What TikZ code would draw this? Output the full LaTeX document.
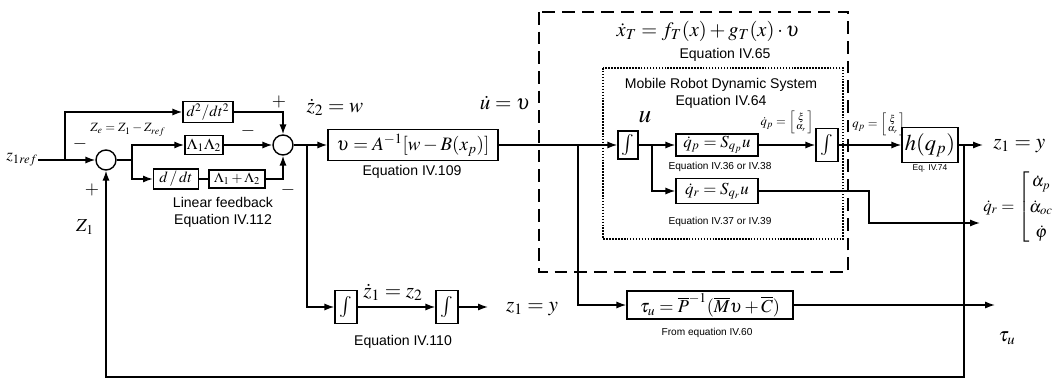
\documentclass[tikz,border=0pt]{standalone}
\usepackage{amsmath}
\usepackage{mathptmx}
\usepackage{fontspec}
\setsansfont{Liberation Sans}
\usetikzlibrary{arrows.meta,positioning}

\newcommand{\fsz}[1]{\fontsize{#1}{1.2\dimexpr#1pt\relax}\selectfont}

\tikzset{
	blk/.style={draw, line width=1pt, inner sep=1.5pt},
	integ/.style={draw, line width=1pt, minimum width=0.55cm, minimum height=0.82cm, inner sep=0pt, font=\fsz{15}},
	sumnode/.style={draw, circle, line width=1pt, minimum size=0.5cm, inner sep=0pt},
	sig/.style={line width=1pt, -{Latex[length=7pt,width=5pt]}},
	wire/.style={line width=1pt},
	sgn/.style={font=\fsz{13}\bfseries, inner sep=0pt},
	eqnote/.style={font=\fsz{10}\sffamily, align=center, inner sep=0pt},
	smallnote/.style={font=\fsz{7.2}\sffamily, inner sep=0pt},
	lbl/.style={font=\fsz{12}, inner sep=0pt}
}

\begin{document}
\begin{tikzpicture}[x=0.025cm, y=-0.025cm]
		\useasboundingbox (0,0) rectangle (1052,381);

		\draw[line width=1.5pt, dash pattern=on 9pt off 5pt] (539,12) rectangle (848,272);
		\draw[line width=1.1pt, densely dotted] (603,68) rectangle (843,239);

		\node[lbl] (zref) at (22,160) {$z_{1ref}$};
		\node[sumnode] (sum1) at (106,160) {};
		\node[blk, minimum width=1.25cm, minimum height=0.53cm, font=\fsz{11}] (d2) at (208,112) {$d^2/dt^2$};
		\node[blk, minimum width=0.95cm, minimum height=0.48cm, font=\fsz{11}] (L12) at (204,145) {$\Lambda_1\Lambda_2$};
		\node[blk, minimum width=1.12cm, minimum height=0.45cm, font=\fsz{11}] (ddt) at (176,179) {$d\,/\,dt$};
		\node[blk, minimum width=1.4cm, minimum height=0.45cm, font=\fsz{10}] (lsum) at (237,179) {$\Lambda_1+\Lambda_2$};
		\node[sumnode] (sum2) at (283,145) {};
		\node[blk, minimum width=4.25cm, minimum height=0.78cm, font=\fsz{13.5}] (ctrl) at (413,145) {$\upsilon = A^{-1}[w-B(x_p)]$};

		\node[integ, minimum width=0.5cm, minimum height=0.7cm] (intu) at (628,145) {$\int$};
		\node[blk, minimum width=2.05cm, minimum height=0.5cm, font=\fsz{12}] (qpbox) at (717,145) {$\dot q_p=S_{q_p}u$};
		\node[blk, minimum width=2.05cm, minimum height=0.62cm, font=\fsz{12}] (qrbox) at (717,191) {$\dot q_r=S_{q_r}u$};
		\node[integ] (int2) at (827,145) {$\int$};
		\node[blk, minimum width=1.4cm, minimum height=0.88cm, font=\fsz{16}] (hbox) at (930,145) {$h(q_p)$};

		\node[integ] (int3) at (346,307) {$\int$};
		\node[integ] (int4) at (447,307) {$\int$};
		\node[blk, minimum width=4.15cm, minimum height=0.68cm, font=\fsz{13}] (tau) at (710,305) {$\tau_u=\overline{P}^{-1}(\overline{M}\upsilon+\overline{C})$};

		\coordinate (j0) at (65,160);
		\coordinate (j2) at (132,160);
		\coordinate (j1) at (307,145);
		\coordinate (j3) at (578,145);
		\coordinate (j4) at (652,145);
		\coordinate (j5) at (964,145);
		\coordinate (yout) at (983,145);
		\coordinate (qrbend) at (869,223);
		\coordinate (qrout) at (980,223);
		\coordinate (zout2) at (488,307);
		\coordinate (tauout) at (995,305);
		\coordinate (fbL) at (106,377);

		\draw[sig] (zref.east) -- (sum1);
		\draw[sig] (j0) |- (d2);
		\draw[wire] (sum1) -- (j2);
		\draw[sig] (j2) |- (L12);
		\draw[sig] (j2) |- (ddt);
		\draw[wire] (ddt) -- (lsum);
		\draw[sig] (d2) -| (sum2);
		\draw[sig] (L12) -- (sum2);
		\draw[sig] (lsum) -| (sum2);
		\draw[sig] (sum2) -- (ctrl);
		\draw[sig] (ctrl) -- (intu);
		\draw[sig] (j1) |- (int3);
		\draw[sig] (int3) -- (int4);
		\draw[sig] (int4) -- (zout2);
		\draw[sig] (j3) |- (tau);
		\draw[sig] (tau) -- (tauout);
		\draw[sig] (intu) -- (qpbox);
		\draw[sig] (j4) |- (qrbox);
		\draw[sig] (qpbox) -- (int2);
		\draw[sig] (int2) -- (hbox);
		\draw[sig] (hbox) -- (yout);
		\draw[sig] (qrbox) -| (qrbend) -- (qrout);
		\draw[sig] (j5) |- (fbL) -- (sum1);

		\node[sgn] (m1) at (80,144) {$-$};
		\node[sgn] (p1) at (92,190) {$+$};
		\node[sgn] (p2) at (279,102) {$+$};
		\node[sgn] (m2) at (248,131) {$-$};
		\node[sgn] (m3) at (288,190) {$-$};

		\node[lbl, font=\fsz{9}] (ze) at (128,130) {$Z_e=Z_1-Z_{ref}$};
		\node[lbl, font=\fsz{13}] (z1lbl) at (85,227) {$Z_1$};
		\node[eqnote] (linfb) at (223,212) {Linear feedback\\Equation IV.112};
		\node[lbl, font=\fsz{15}] (z2dot) at (335,107) {$\dot z_2=w$};
		\node[eqnote] (eq109) at (412,172) {Equation IV.109};
		\node[lbl, font=\fsz{15}] (udot) at (505,103) {$\dot u=\upsilon$};

		\node[lbl, font=\fsz{14.5}] (xT) at (708,31) {$\dot x_T=f_T(x)+g_T(x)\cdot\upsilon$};
		\node[eqnote] (eq65) at (725,55) {Equation IV.65};
		\node[eqnote] (mrds) at (721,93) {Mobile Robot Dynamic System\\Equation IV.64};
		\node[lbl, font=\fsz{18}] (ulbl) at (645,117) {$u$};
		\node[smallnote] (eq36) at (720,167) {Equation IV.36 or IV.38};
		\node[smallnote] (eq37) at (720,222) {Equation IV.37 or IV.39};
		\node[lbl, font=\fsz{9}] (qpd) at (787,122) {$\dot q_p=\left[\begin{smallmatrix}\xi\\ \alpha_r\end{smallmatrix}\right]$};
		\node[lbl, font=\fsz{9}, anchor=west] (qpl) at (852,124) {$q_p=\left[\begin{smallmatrix}\xi\\ \alpha_r\end{smallmatrix}\right]$};
		\node[smallnote, font=\fsz{6}\sffamily] (eq74) at (930,168) {Eq. IV.74};
		\node[lbl, font=\fsz{15}, anchor=west] (ylbl) at (993,146) {$z_1=y$};
		\node[lbl, font=\fsz{12}, anchor=west] (qrvec) at (983,207) {$\dot q_r=\renewcommand{\arraystretch}{1.25}\begin{bmatrix}\dot\alpha_p\\ \dot\alpha_{oc}\\ \dot\varphi\end{bmatrix}$};

		\node[lbl, font=\fsz{15}] (z1dot) at (393,292) {$\dot z_1=z_2$};
		\node[lbl, font=\fsz{15}] (ylbl2) at (532,309) {$z_1=y$};
		\node[eqnote] (eq110) at (403,342) {Equation IV.110};
		\node[smallnote] (eq60) at (707,333) {From equation IV.60};
		\node[lbl, font=\fsz{14}] (taulbl) at (1007,338) {$\tau_u$};
	\end{tikzpicture}
\end{document}
